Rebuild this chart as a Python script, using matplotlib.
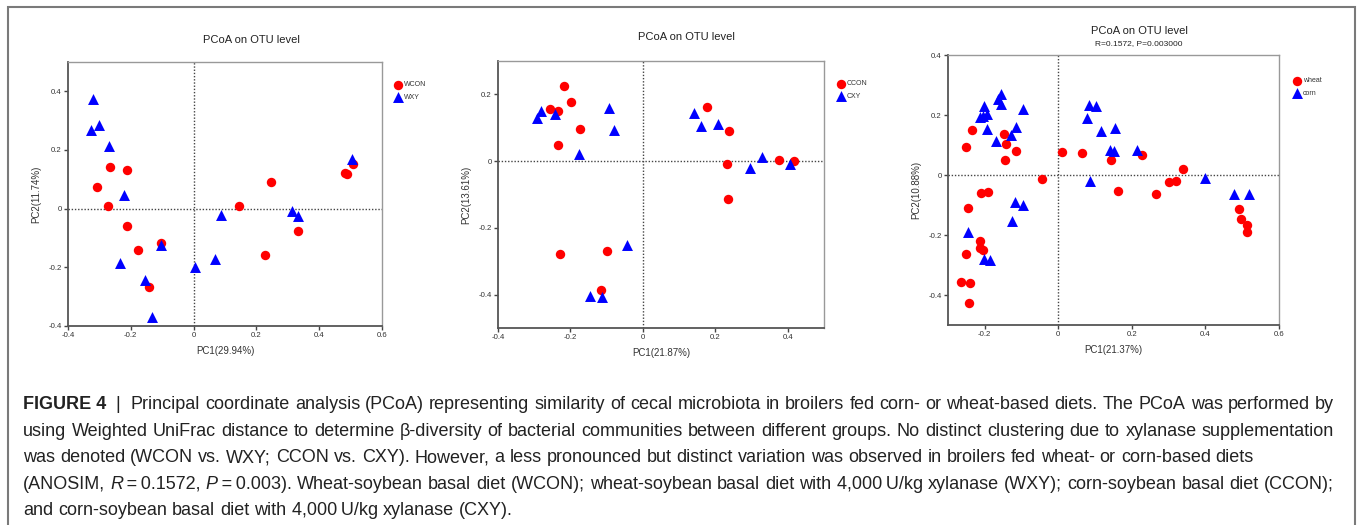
import numpy as np
import matplotlib
matplotlib.use("Agg")
import matplotlib.pyplot as plt
from matplotlib.patches import Rectangle

plt.rcParams['font.family'] = ['Liberation Sans', 'DejaVu Sans']

# ---- data ----
# panel 1: wheat diets
wcon_x = [-0.267, -0.211, -0.309, -0.272, -0.213, -0.177, -0.104, -0.143,
          0.145, 0.245, 0.226, 0.332, 0.483, 0.489, 0.507]
wcon_y = [0.141, 0.131, 0.074, 0.009, -0.058, -0.142, -0.116, -0.268,
          0.009, 0.090, -0.157, -0.077, 0.122, 0.117, 0.153]
wxy_x = [-0.320, -0.328, -0.300, -0.269, -0.223, -0.233, -0.154, -0.105,
         -0.131, 0.006, 0.068, 0.087, 0.314, 0.333, 0.504]
wxy_y = [0.373, 0.268, 0.285, 0.215, 0.048, -0.186, -0.244, -0.124,
         -0.370, -0.198, -0.171, -0.023, -0.009, -0.026, 0.170]

# panel 2: corn diets
ccon_x = [-0.219, -0.257, -0.235, -0.198, -0.175, -0.233, -0.229, -0.098,
          -0.117, 0.176, 0.238, 0.233, 0.236, 0.377, 0.417]
ccon_y = [0.224, 0.157, 0.150, 0.177, 0.095, 0.047, -0.279, -0.270,
          -0.386, 0.163, 0.089, -0.009, -0.114, 0.004, 0.000]
cxy_x = [-0.291, -0.281, -0.243, -0.093, -0.080, -0.177, -0.043, -0.145,
         -0.112, 0.140, 0.161, 0.207, 0.296, 0.328, 0.405]
cxy_y = [0.130, 0.150, 0.142, 0.160, 0.092, 0.020, -0.252, -0.404,
         -0.408, 0.145, 0.106, 0.111, -0.020, 0.012, -0.008]

# panel 3: wheat vs corn
wheat_x = [-0.234, -0.251, -0.148, -0.143, -0.115, -0.146, -0.044, -0.211,
           -0.191, -0.246, -0.214, -0.214, -0.204, -0.250, -0.264, -0.240,
           -0.243, 0.011, 0.065, 0.142, 0.161, 0.227, 0.265, 0.302, 0.321,
           0.339, 0.492, 0.498, 0.514, 0.512]
wheat_y = [0.149, 0.092, 0.137, 0.104, 0.079, 0.051, -0.012, -0.059,
           -0.056, -0.111, -0.219, -0.244, -0.249, -0.263, -0.357, -0.359,
           -0.428, 0.078, 0.072, 0.049, -0.052, 0.068, -0.064, -0.024, -0.021,
           0.021, -0.112, -0.146, -0.168, -0.189]
corn_x = [-0.157, -0.165, -0.157, -0.203, -0.213, -0.206, -0.194, -0.193,
          -0.097, -0.115, -0.128, -0.170, -0.119, -0.097, -0.127, -0.245,
          -0.201, -0.185, 0.083, 0.103, 0.077, 0.116, 0.154, 0.140, 0.152,
          0.213, 0.087, 0.400, 0.477, 0.518]
corn_y = [0.271, 0.252, 0.236, 0.229, 0.194, 0.196, 0.202, 0.154,
          0.219, 0.161, 0.132, 0.114, -0.090, -0.099, -0.154, -0.190,
          -0.279, -0.284, 0.232, 0.229, 0.191, 0.147, 0.158, 0.084, 0.081,
          0.082, -0.019, -0.009, -0.063, -0.064]

W, H = 1357, 525
fig = plt.figure(figsize=(W / 100, H / 100), dpi=100)


def px_axes(l, r, t, b):
    return fig.add_axes([l / W, 1 - b / H, (r - l) / W, (b - t) / H])


def fmt(v):
    return "0" if abs(v) < 1e-9 else "%.1f" % v


def pcoa_panel(ax, x1, y1, x2, y2, names, xlim, ylim, xticks, yticks,
               xlabel, ylabel, leg_xy):
    ax.scatter(x1, y1, s=46, c='#ff0000', marker='o', lw=0, label=names[0], zorder=3)
    ax.scatter(x2, y2, s=62, c='#0000ff', marker='^', lw=0, label=names[1], zorder=3)
    ax.axvline(0, color='#444444', ls=(0, (1, 1.3)), lw=1, zorder=1)
    ax.axhline(0, color='#444444', ls=(0, (1, 1.3)), lw=1, zorder=1)
    ax.set_xlim(*xlim)
    ax.set_ylim(*ylim)
    ax.set_xticks(xticks)
    ax.set_yticks(yticks)
    ax.set_xticklabels([fmt(v) for v in xticks])
    ax.set_yticklabels([fmt(v) for v in yticks])
    ax.tick_params(direction='out', length=3, width=1, color='#444444',
                   labelsize=5.6, labelcolor='#333333', pad=1.5)
    for side in ['left', 'bottom']:
        ax.spines[side].set_color('#555555')
        ax.spines[side].set_linewidth(1.3)
    for side in ['top', 'right']:
        ax.spines[side].set_color('#999999')
        ax.spines[side].set_linewidth(1)
    ax.set_xlabel(xlabel, fontsize=7, color='#333333', labelpad=5)
    ax.set_ylabel(ylabel, fontsize=7, color='#333333', labelpad=5)
    ax.legend(loc='upper left', bbox_to_anchor=(leg_xy[0] / W, 1 - leg_xy[1] / H),
              bbox_transform=fig.transFigure, frameon=False, fontsize=5,
              handletextpad=0.2, borderpad=0, labelspacing=0.75,
              handlelength=1.3, markerscale=1.0, labelcolor='#333333')


ax1 = px_axes(68, 382, 62, 326)
pcoa_panel(ax1, wcon_x, wcon_y, wxy_x, wxy_y, ['WCON', 'WXY'],
           (-0.4, 0.6), (-0.4, 0.5), [-0.4, -0.2, 0, 0.2, 0.4, 0.6],
           [-0.4, -0.2, 0, 0.2, 0.4], 'PC1(29.94%)', 'PC2(11.74%)', (390, 78))
fig.text(251 / W, 1 - 40 / H, 'PCoA on OTU level', ha='center', va='center',
         fontsize=8, color='#222222')

ax2 = px_axes(498, 824, 61, 328)
pcoa_panel(ax2, ccon_x, ccon_y, cxy_x, cxy_y, ['CCON', 'CXY'],
           (-0.4, 0.5), (-0.5, 0.3), [-0.4, -0.2, 0, 0.2, 0.4],
           [-0.4, -0.2, 0, 0.2], 'PC1(21.87%)', 'PC2(13.61%)', (833, 77))
fig.text(686 / W, 1 - 37 / H, 'PCoA on OTU level', ha='center', va='center',
         fontsize=8, color='#222222')

ax3 = px_axes(948, 1279, 55, 325)
pcoa_panel(ax3, wheat_x, wheat_y, corn_x, corn_y, ['wheat', 'corn'],
           (-0.3, 0.6), (-0.5, 0.4), [-0.2, 0, 0.2, 0.4, 0.6],
           [-0.4, -0.2, 0, 0.2, 0.4], 'PC1(21.37%)', 'PC2(10.88%)', (1289, 74))
fig.text(1139 / W, 1 - 31 / H, 'PCoA on OTU level', ha='center', va='center',
         fontsize=8, color='#222222')
fig.text(1139 / W, 1 - 44 / H, 'R=0.1572, P=0.003000', ha='center', va='center',
         fontsize=6, color='#222222')

# outer frame of the figure panel
fig.add_artist(Rectangle((8 / W, -0.01), (1355 - 8) / W, 1 - 7 / H + 0.01,
                         transform=fig.transFigure, fill=False,
                         edgecolor='#7a7a7a', lw=1.5))

# ---- caption, justified like the journal layout ----
N, B, I = 'normal', 'bold', 'italic'


def plain(s):
    return [[(w.replace("_", "\u2009"), N)] for w in s.split()]


caption_lines = [
    ([[("FIGURE 4", B), ("  |  ", N), ("Principal", N)]]
     + plain("coordinate analysis (PCoA) representing similarity of cecal microbiota in broilers fed corn- or wheat-based diets. The PCoA was performed by"), True),
    (plain("using Weighted UniFrac distance to determine \u03b2-diversity of bacterial communities between different groups. No distinct clustering due to xylanase supplementation"), True),
    (plain("was denoted (WCON vs. WXY; CCON vs. CXY). However, a less pronounced but distinct variation was observed in broilers fed wheat- or corn-based diets"), False),
    ([[("(ANOSIM,", N)], [("R", I), ("\u2009=\u20090.1572,", N)], [("P", I), ("\u2009=\u20090.003).", N)]]
     + plain("Wheat-soybean basal diet (WCON); wheat-soybean basal diet with 4,000_U/kg xylanase (WXY); corn-soybean basal diet (CCON);"), True),
    (plain("and corn-soybean basal diet with 4,000_U/kg xylanase (CXY)."), False),
]

cap_fs = 13.0
x_left, x_right = 23, 1334
base0, step = 409, 26.6
space_px = 5.0
renderer = fig.canvas.get_renderer()


def seg_text(x, y, txt, style):
    return fig.text(x / W, 1 - y / H, txt, fontsize=cap_fs, color='#222222',
                    va='baseline', ha='left',
                    fontweight='bold' if style == B else 'normal',
                    fontstyle='italic' if style == I else 'normal')


for i, (words, justify) in enumerate(caption_lines):
    y = base0 + i * step
    # measure every word first
    widths = []
    for segs in words:
        w = 0
        for txt, style in segs:
            t = seg_text(0, 0, txt, style)
            w += t.get_window_extent(renderer).width
            t.remove()
        widths.append(w)
    gap = (x_right - x_left - sum(widths)) / (len(words) - 1) if justify else space_px
    x = x_left
    for segs, w in zip(words, widths):
        xs = x
        for txt, style in segs:
            t = seg_text(xs, y, txt, style)
            xs += t.get_window_extent(renderer).width
        x += w + gap

fig.savefig('out.png', dpi=100, facecolor='white')
